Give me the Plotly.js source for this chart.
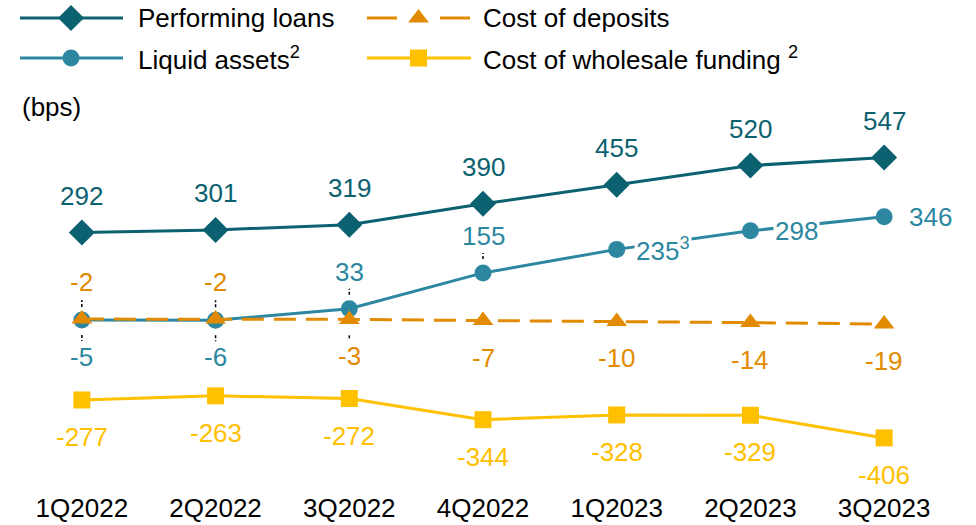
<!DOCTYPE html>
<html><head><meta charset="utf-8">
<script src="https://cdn.plot.ly/plotly-3.0.1.min.js"></script>
<style>html,body{margin:0;padding:0;background:#fff}#c{width:976px;height:525px}</style>
</head><body><div id="c"></div>
<script>
const quarters = ['1Q2022','2Q2022','3Q2022','4Q2022','1Q2023','2Q2023','3Q2023'];
const performingLoans = [292, 301, 319, 390, 455, 520, 547];
const liquidAssets = [-5, -6, 33, 155, 235, 298, 346];
const costDeposits = [-2, -2, -3, -7, -10, -14, -19];
const costWholesale = [-277, -263, -272, -344, -328, -329, -406];
const liquidLabelText = ['-5','-6','33','155','235<sup>3</sup>','298','346'];
const seriesNames = ['Performing loans','Cost of deposits','Liquid assets<sup>2</sup>','Cost of wholesale funding <sup>2</sup>'];

const C_PERF = '#0b6170', C_LIQ = '#2d87a0', C_DEP = '#e38b00', C_WH = '#ffc000';
const FONT = 'Liberation Sans, Arial, sans-serif';
const FS = 26;

const traces = [
  {x: quarters, y: performingLoans, mode: 'lines+markers', line: {color: C_PERF, width: 3}, marker: {symbol: 'diamond', size: 20, color: C_PERF}, showlegend: false},
  {x: quarters, y: liquidAssets, mode: 'lines+markers', line: {color: C_LIQ, width: 3}, marker: {symbol: 'circle', size: 17, color: C_LIQ}, showlegend: false},
  {x: quarters, y: costDeposits, mode: 'lines+markers', line: {color: C_DEP, width: 3, dash: '22px,10px'}, marker: {symbol: 'triangle-up', size: 18, color: C_DEP}, showlegend: false},
  {x: quarters, y: costWholesale, mode: 'lines+markers', line: {color: C_WH, width: 3}, marker: {symbol: 'square', size: 17, color: C_WH}, showlegend: false}
];

// custom legend drawn on a pixel-like overlay axis
const legendItems = [
  {name: seriesNames[0], color: C_PERF, symbol: 'diamond', size: 20, dash: 'solid', lx: [20, 123], mx: 71, tx: 136, ty: 18},
  {name: seriesNames[1], color: C_DEP, symbol: 'triangle-up', size: 18, dash: '30px,43px', lx: [367, 471], mx: 418.5, tx: 481, ty: 18},
  {name: seriesNames[2], color: C_LIQ, symbol: 'circle', size: 17, dash: 'solid', lx: [20, 123], mx: 71, tx: 136, ty: 58},
  {name: seriesNames[3], color: C_WH, symbol: 'square', size: 17, dash: 'solid', lx: [367, 471], mx: 418.5, tx: 481, ty: 58}
];
const annotations = [];
legendItems.forEach(it => {
  traces.push({x: it.lx, y: [it.ty, it.ty], xaxis: 'x2', yaxis: 'y2', mode: 'lines', line: {color: it.color, width: 3, dash: it.dash}, showlegend: false, hoverinfo: 'skip', cliponaxis: false});
  traces.push({x: [it.mx], y: [it.ty], xaxis: 'x2', yaxis: 'y2', mode: 'markers', marker: {symbol: it.symbol, size: it.size, color: it.color}, showlegend: false, hoverinfo: 'skip', cliponaxis: false});
  annotations.push({xref: 'x2', yref: 'y2', x: it.tx, y: it.ty, text: it.name, showarrow: false, xanchor: 'left', yanchor: 'middle', font: {family: FONT, size: FS, color: '#000'}});
});
annotations.push({xref: 'x2', yref: 'y2', x: 20, y: 107, text: '(bps)', showarrow: false, xanchor: 'left', yanchor: 'middle', font: {family: FONT, size: FS, color: '#000'}});

function lab(x, y, text, color, pos) {
  const a = {x: x, y: y, xref: 'x', yref: 'y', text: text, showarrow: false, font: {family: FONT, size: FS, color: color}, xanchor: 'center', yanchor: 'middle'};
  if (pos === 'above') a.yshift = 37;
  if (pos === 'below') a.yshift = -37;
  if (pos === 'right') { a.xshift = 46; a.bgcolor = '#fff'; a.borderpad = 1; }
  annotations.push(a);
}
quarters.forEach((q, i) => {
  lab(q, performingLoans[i], String(performingLoans[i]), C_PERF, 'above');
  const lp = i < 2 ? 'below' : (i < 4 ? 'above' : 'right');
  lab(q, liquidAssets[i], liquidLabelText[i], C_LIQ, lp);
  lab(q, costDeposits[i], String(costDeposits[i]), C_DEP, i < 2 ? 'above' : 'below');
  lab(q, costWholesale[i], String(costWholesale[i]), C_WH, 'below');
});

// dotted leader ticks
const shapes = [];
function leader(x, yv, p0, p1) {
  shapes.push({type: 'line', xref: 'x', yref: 'y', ysizemode: 'pixel', yanchor: yv, x0: x, x1: x, y0: p0, y1: p1, line: {color: '#000', width: 1.5, dash: '3px,2px'}});
}
leader(quarters[0], liquidAssets[0], 13, 20); leader(quarters[0], liquidAssets[0], -15, -21);
leader(quarters[1], liquidAssets[1], 13, 20); leader(quarters[1], liquidAssets[1], -15, -21);
leader(quarters[2], liquidAssets[2], 14, 20); leader(quarters[2], costDeposits[2], -16, -21);
leader(quarters[3], liquidAssets[3], 14, 20);

const layout = {
  width: 976, height: 525,
  margin: {l: 15, r: 25, t: 0, b: 35},
  paper_bgcolor: '#fff', plot_bgcolor: '#fff',
  font: {family: FONT, size: FS, color: '#000'},
  xaxis: {type: 'category', range: [-0.5, 6.5], showgrid: false, zeroline: false, showline: false, ticks: '', tickfont: {family: FONT, size: FS, color: '#000'}, fixedrange: true},
  yaxis: {range: [-583.1, 1082.9], visible: false, showgrid: false, zeroline: false, fixedrange: true},
  xaxis2: {overlaying: 'x', range: [15, 951], visible: false, fixedrange: true},
  yaxis2: {overlaying: 'y', range: [490, 0], visible: false, fixedrange: true},
  annotations: annotations,
  shapes: shapes,
  showlegend: false
};
Plotly.newPlot('c', traces, layout, {displayModeBar: false, staticPlot: true});
</script></body></html>
